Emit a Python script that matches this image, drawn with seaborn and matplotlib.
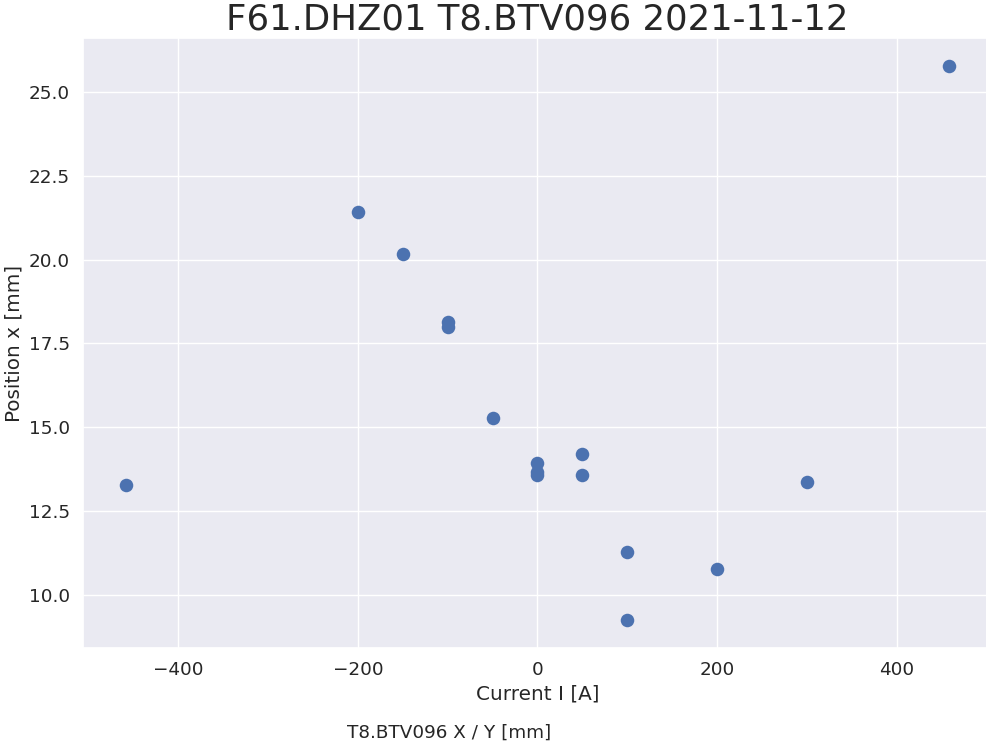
import matplotlib
matplotlib.use("Agg")
import matplotlib.pyplot as plt
import seaborn as sns
import pandas as pd

current = [-458, -200, -150, -100, -100, -50, 0, 0, 0, 50, 50, 100, 100, 200, 300, 458]
position = [13.27, 21.43, 20.18, 18.15, 18.0, 15.27, 13.93, 13.66, 13.57, 14.2, 13.57, 11.28, 9.26, 10.77, 13.36, 25.77]

df = pd.DataFrame({"Current I [A]": current, "Position x [mm]": position})

sns.set_theme(style="darkgrid", font_scale=1.2)
plt.rcParams['font.family'] = ['DejaVu Sans']

fig = plt.figure(figsize=(9.86, 7.5), dpi=100)
ax = fig.add_axes([0.0842, 0.136, 0.9218, 0.813])
sns.scatterplot(data=df, x="Current I [A]", y="Position x [mm]", ax=ax,
                s=95, linewidth=0, color="#4C72B0")
ax.set_xlim(-506, 506)
ax.set_ylim(8.42, 26.6)
ax.set_xticks([-400, -200, 0, 200, 400])
ax.set_yticks([10.0, 12.5, 15.0, 17.5, 20.0, 22.5, 25.0])
ax.set_title("F61.DHZ01 T8.BTV096 2021-11-12", fontsize=25.6, pad=6)
fig.text(0.456, 0.016, "T8.BTV096 X / Y [mm]", ha="center", fontsize=13.2, color="#262626")
fig.savefig("out.png", dpi=100)
